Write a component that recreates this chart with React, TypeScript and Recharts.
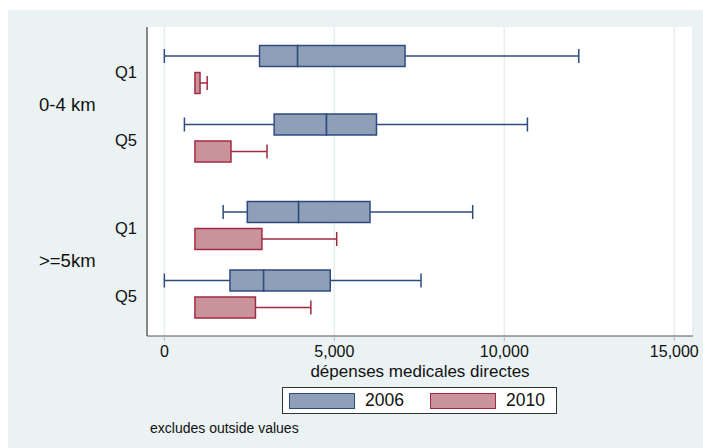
import React from "react";
import { Bar, CartesianGrid, ComposedChart, XAxis, YAxis } from "recharts";

const groups = ["0-4 km", ">=5km"];
const quintiles = ["Q1", "Q5"];
const years = ["2006", "2010"];

// box stats, ordered group -> quintile -> year
const lowAdj = [0, 900, 590, 900, 1730, 900, 0, 900];
const p25 = [2800, 900, 3230, 900, 2440, 900, 1930, 900];
const p50 = [3920, 900, 4770, 900, 3950, 900, 2920, 900];
const p75 = [7080, 1050, 6240, 1960, 6050, 2870, 4880, 2680];
const highAdj = [12190, 1260, 10680, 3020, 9070, 5070, 7550, 4310];

const xTicks = [0, 5000, 10000, 15000];

// row layout along the y scale (top = 0)
const ROW_TOP = 29;
const GROUP_STEP = 156;
const Q_STEP = 68.5;
const YEAR_STEP = 27;
const Y_SPAN = 309;

const W = 695;
const H = 438;
const PLOT_LEFT = 139;
const FONT = "'Liberation Sans', Arial, sans-serif";

const COLORS: Record<string, { fill: string; stroke: string }> = {
  "2006": { fill: "#8E9FB7", stroke: "#2E4B7F" },
  "2010": { fill: "#CA939B", stroke: "#A02B40" },
};

const rows: any[] = [];
groups.forEach((_, g) =>
  quintiles.forEach((_, q) =>
    years.forEach((yr, y) => {
      const i = g * 4 + q * 2 + y;
      rows.push({
        pos: ROW_TOP + g * GROUP_STEP + q * Q_STEP + y * YEAR_STEP,
        year: yr,
        base: lowAdj[i],
        wLo: p25[i] - lowAdj[i],
        bLo: p50[i] - p25[i],
        bHi: p75[i] - p50[i],
        wHi: highAdj[i] - p75[i],
      });
    })
  )
);

const tickText = new Map<number, { text: string; group: boolean }>();
groups.forEach((gl, g) => {
  const top = ROW_TOP + g * GROUP_STEP;
  tickText.set(top + (Q_STEP + YEAR_STEP) / 2, { text: gl, group: true });
  quintiles.forEach((ql, q) => {
    tickText.set(top + q * Q_STEP + YEAR_STEP / 2, { text: ql, group: false });
  });
});
const yTicks = Array.from(tickText.keys());

const Empty = () => <g />;

const BoxPart = (p: any) => {
  const c = COLORS[p.payload.year];
  return (
    <rect x={p.x} y={p.y} width={Math.max(p.width, 0)} height={p.height}
      fill={c.fill} stroke={c.stroke} strokeWidth={1.5} />
  );
};

const whisker = (capAtEnd: boolean) => (p: any) => {
  if (!(p.width > 0.5)) return <g />;
  const c = COLORS[p.payload.year];
  const cy = p.y + p.height / 2;
  const cx = capAtEnd ? p.x + p.width : p.x;
  const cap = p.height / 3;
  return (
    <g stroke={c.stroke} strokeWidth={1.5}>
      <line x1={p.x} x2={p.x + p.width} y1={cy} y2={cy} />
      <line x1={cx} x2={cx} y1={cy - cap} y2={cy + cap} />
    </g>
  );
};

const YTick = (p: any) => {
  const t = tickText.get(p.payload.value);
  if (!t) return null;
  return t.group ? (
    <text x={31} y={p.y + 7} fontSize={18.5} fontFamily={FONT} fill="#111">{t.text}</text>
  ) : (
    <text x={129} y={p.y + 8} fontSize={16.5} fontFamily={FONT} fill="#111" textAnchor="end">{t.text}</text>
  );
};

const AxisTitle = (p: any) => {
  const vb = p.viewBox;
  return (
    <text x={vb.x + vb.width / 2} y={vb.y + 41} textAnchor="middle" fontSize={17}
      fontFamily={FONT} fill="#111">dépenses medicales directes</text>
  );
};

export default function App() {
  return (
    <div style={{ position: "absolute", left: 8, top: 10, width: W, height: H, background: "#EAF2F3" }}>
      <ComposedChart width={W} height={H} data={rows} layout="vertical"
        margin={{ top: 17, right: 10, bottom: 72, left: 0 }}>
        <CartesianGrid horizontal={false} fill="#FFFFFF" stroke="#E5EDEF" strokeWidth={1.5} />
        <XAxis type="number" domain={[-510, 15550]} allowDataOverflow ticks={xTicks} interval={0}
          tickFormatter={(v: number) => v.toLocaleString("en-US")}
          tick={{ fontSize: 16, fontFamily: FONT, fill: "#111" }}
          tickSize={5} tickMargin={5} height={40}
          axisLine={{ stroke: "#555" }} tickLine={{ stroke: "#AAB5B9" }}
          label={<AxisTitle />} />
        <YAxis type="number" dataKey="pos" domain={[0, Y_SPAN]} allowDataOverflow
          ticks={yTicks} interval={0} tick={<YTick />} tickLine={false}
          axisLine={{ stroke: "#444", strokeWidth: 1.2 }} width={PLOT_LEFT} />
        <Bar dataKey="base" stackId="box" barSize={21} shape={<Empty />} isAnimationActive={false} />
        <Bar dataKey="wLo" stackId="box" barSize={21} shape={whisker(false)} isAnimationActive={false} />
        <Bar dataKey="bLo" stackId="box" barSize={21} shape={BoxPart} isAnimationActive={false} />
        <Bar dataKey="bHi" stackId="box" barSize={21} shape={BoxPart} isAnimationActive={false} />
        <Bar dataKey="wHi" stackId="box" barSize={21} shape={whisker(true)} isAnimationActive={false} />
      </ComposedChart>
      <div style={{
        position: "absolute", left: 274, top: 377, width: 273, height: 25, background: "#fff",
        border: "1px solid #333", display: "flex", alignItems: "center", fontFamily: FONT, fontSize: 17.5,
      }}>
        {years.map((yr, k) => (
          <div key={yr} style={{ display: "flex", alignItems: "center", marginLeft: k === 0 ? 6 : 26 }}>
            <div style={{ width: 64, height: 14, background: COLORS[yr].fill, border: `1.5px solid ${COLORS[yr].stroke}` }} />
            <span style={{ marginLeft: 10, color: "#111" }}>{yr}</span>
          </div>
        ))}
      </div>
      <div style={{ position: "absolute", left: 142, top: 410, fontFamily: FONT, fontSize: 14, color: "#111" }}>
        excludes outside values
      </div>
    </div>
  );
}
